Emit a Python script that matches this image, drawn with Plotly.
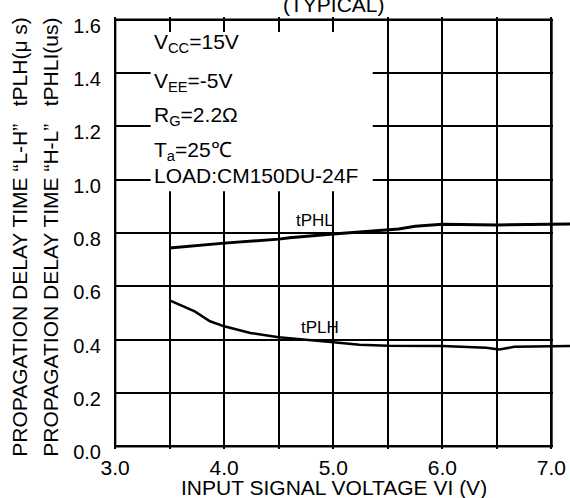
import plotly.graph_objects as go

# ---- data ----
tphl_x = [3.5, 4.0, 4.5, 4.6, 5.0, 5.5, 5.6, 5.75, 6.0, 6.5, 7.0, 7.17]
tphl_y = [0.744, 0.762, 0.777, 0.782, 0.796, 0.810, 0.815, 0.825, 0.833, 0.830, 0.834, 0.834]

tplh_x = [3.5, 3.73, 3.87, 4.0, 4.24, 4.5, 5.0, 5.24, 5.5, 6.0, 6.4, 6.52, 6.66, 7.0, 7.17]
tplh_y = [0.547, 0.506, 0.469, 0.450, 0.425, 0.409, 0.390, 0.381, 0.377, 0.376, 0.370, 0.363, 0.373, 0.376, 0.376]

x_ticks = [3.0, 4.0, 5.0, 6.0, 7.0]
x_tick_labels = ["3.0", "4.0", "5.0", "6.0", "7.0"]
y_ticks = [0.0, 0.2, 0.4, 0.6, 0.8, 1.0, 1.2, 1.4, 1.6]
y_tick_labels = ["0.0", "0.2", "0.4", "0.6", "0.8", "1.0", "1.2", "1.4", "1.6"]

conditions = ["V<sub>CC</sub>=15V", "V<sub>EE</sub>=-5V", "R<sub>G</sub>=2.2\u03a9",
              "T<sub>a</sub>=25\u2103", "LOAD:CM150DU-24F"]
condition_y = [0.9403, 0.8489, 0.7698, 0.6909, 0.6330]

FONT = "Liberation Sans, Arial, sans-serif"

fig = go.Figure()
fig.add_trace(go.Scatter(x=tphl_x, y=tphl_y, mode="lines",
                         line=dict(color="black", width=3), showlegend=False))
fig.add_trace(go.Scatter(x=tplh_x, y=tplh_y, mode="lines",
                         line=dict(color="black", width=2.5), showlegend=False))

grid = dict(showgrid=True, gridcolor="black", gridwidth=1.7)

fig.update_layout(
    width=570, height=498,
    margin=dict(l=114.4, r=0, t=17.3, b=48.6),
    paper_bgcolor="white", plot_bgcolor="white",
    font=dict(family=FONT, color="black"),
    xaxis=dict(range=[2.99, 7.17], tickvals=x_ticks, ticktext=x_tick_labels,
               zeroline=False, showline=False, ticks="",
               tickfont=dict(size=21, color="black"), ticklabelstandoff=4,
               minor=dict(dtick=0.5, tick0=3.0, showgrid=True, gridcolor="black", gridwidth=1.7),
               **grid),
    yaxis=dict(range=[-0.01, 1.61], tickvals=y_ticks, ticktext=y_tick_labels,
               zeroline=False, showline=False, ticks="",
               tickfont=dict(size=20, color="black"), ticklabelstandoff=12,
               ticklabelshift=6, **grid),
)

shapes = [
    # white box behind the conditions text
    dict(type="rect", xref="x", yref="y", x0=3.326, x1=5.362, y0=0.957, y1=1.554,
         fillcolor="white", line=dict(width=0), layer="between"),
    # blank the area right of the frame
    dict(type="rect", xref="x", yref="y", x0=7.014, x1=7.3, y0=-0.05, y1=1.65,
         fillcolor="white", line=dict(width=0), layer="between"),
    # frame
    dict(type="rect", xref="x", yref="y", x0=3.0, x1=7.0, y0=0.0, y1=1.6,
         line=dict(color="black", width=2.5), fillcolor="rgba(0,0,0,0)", layer="above"),
]
fig.update_layout(shapes=shapes)

ann = []
for txt, yy in zip(conditions, condition_y):
    ann.append(dict(text=txt, xref="paper", yref="paper", x=0.0825, y=yy,
                    xanchor="left", yanchor="middle", showarrow=False,
                    font=dict(size=21, family=FONT, color="black")))
ann.append(dict(text="tPHL", xref="x", yref="y", x=4.83, y=0.846, showarrow=False,
                xanchor="center", yanchor="middle",
                font=dict(size=17, family=FONT, color="black")))
ann.append(dict(text="tPLH", xref="x", yref="y", x=4.876, y=0.447, showarrow=False,
                xanchor="center", yanchor="middle",
                font=dict(size=17, family=FONT, color="black")))
ann.append(dict(text="(TYPICAL)", xref="paper", yref="paper", x=0.482, y=1.0282,
                showarrow=False, xanchor="center", yanchor="middle",
                font=dict(size=21, family=FONT, color="black")))
ann.append(dict(text="INPUT SIGNAL VOLTAGE VI (V)", xref="paper", yref="paper", x=0.482, y=-0.089,
                showarrow=False, xanchor="center", yanchor="middle",
                font=dict(size=21, family=FONT, color="black")))
ann.append(dict(text="PROPAGATION DELAY TIME \u201cL-H\u201d   tPLH(\u03bc s)", xref="paper", yref="paper",
                x=-0.2072, y=0.4903, textangle=-90, showarrow=False,
                xanchor="center", yanchor="middle",
                font=dict(size=21, family=FONT, color="black")))
ann.append(dict(text="PROPAGATION DELAY TIME \u201cH-L\u201d   tPHLI(us)", xref="paper", yref="paper",
                x=-0.1392, y=0.4903, textangle=-90, showarrow=False,
                xanchor="center", yanchor="middle",
                font=dict(size=21, family=FONT, color="black")))
fig.update_layout(annotations=ann)

fig.write_html("out.html", config={"displayModeBar": False},
               post_script="document.body.style.margin='0';")
